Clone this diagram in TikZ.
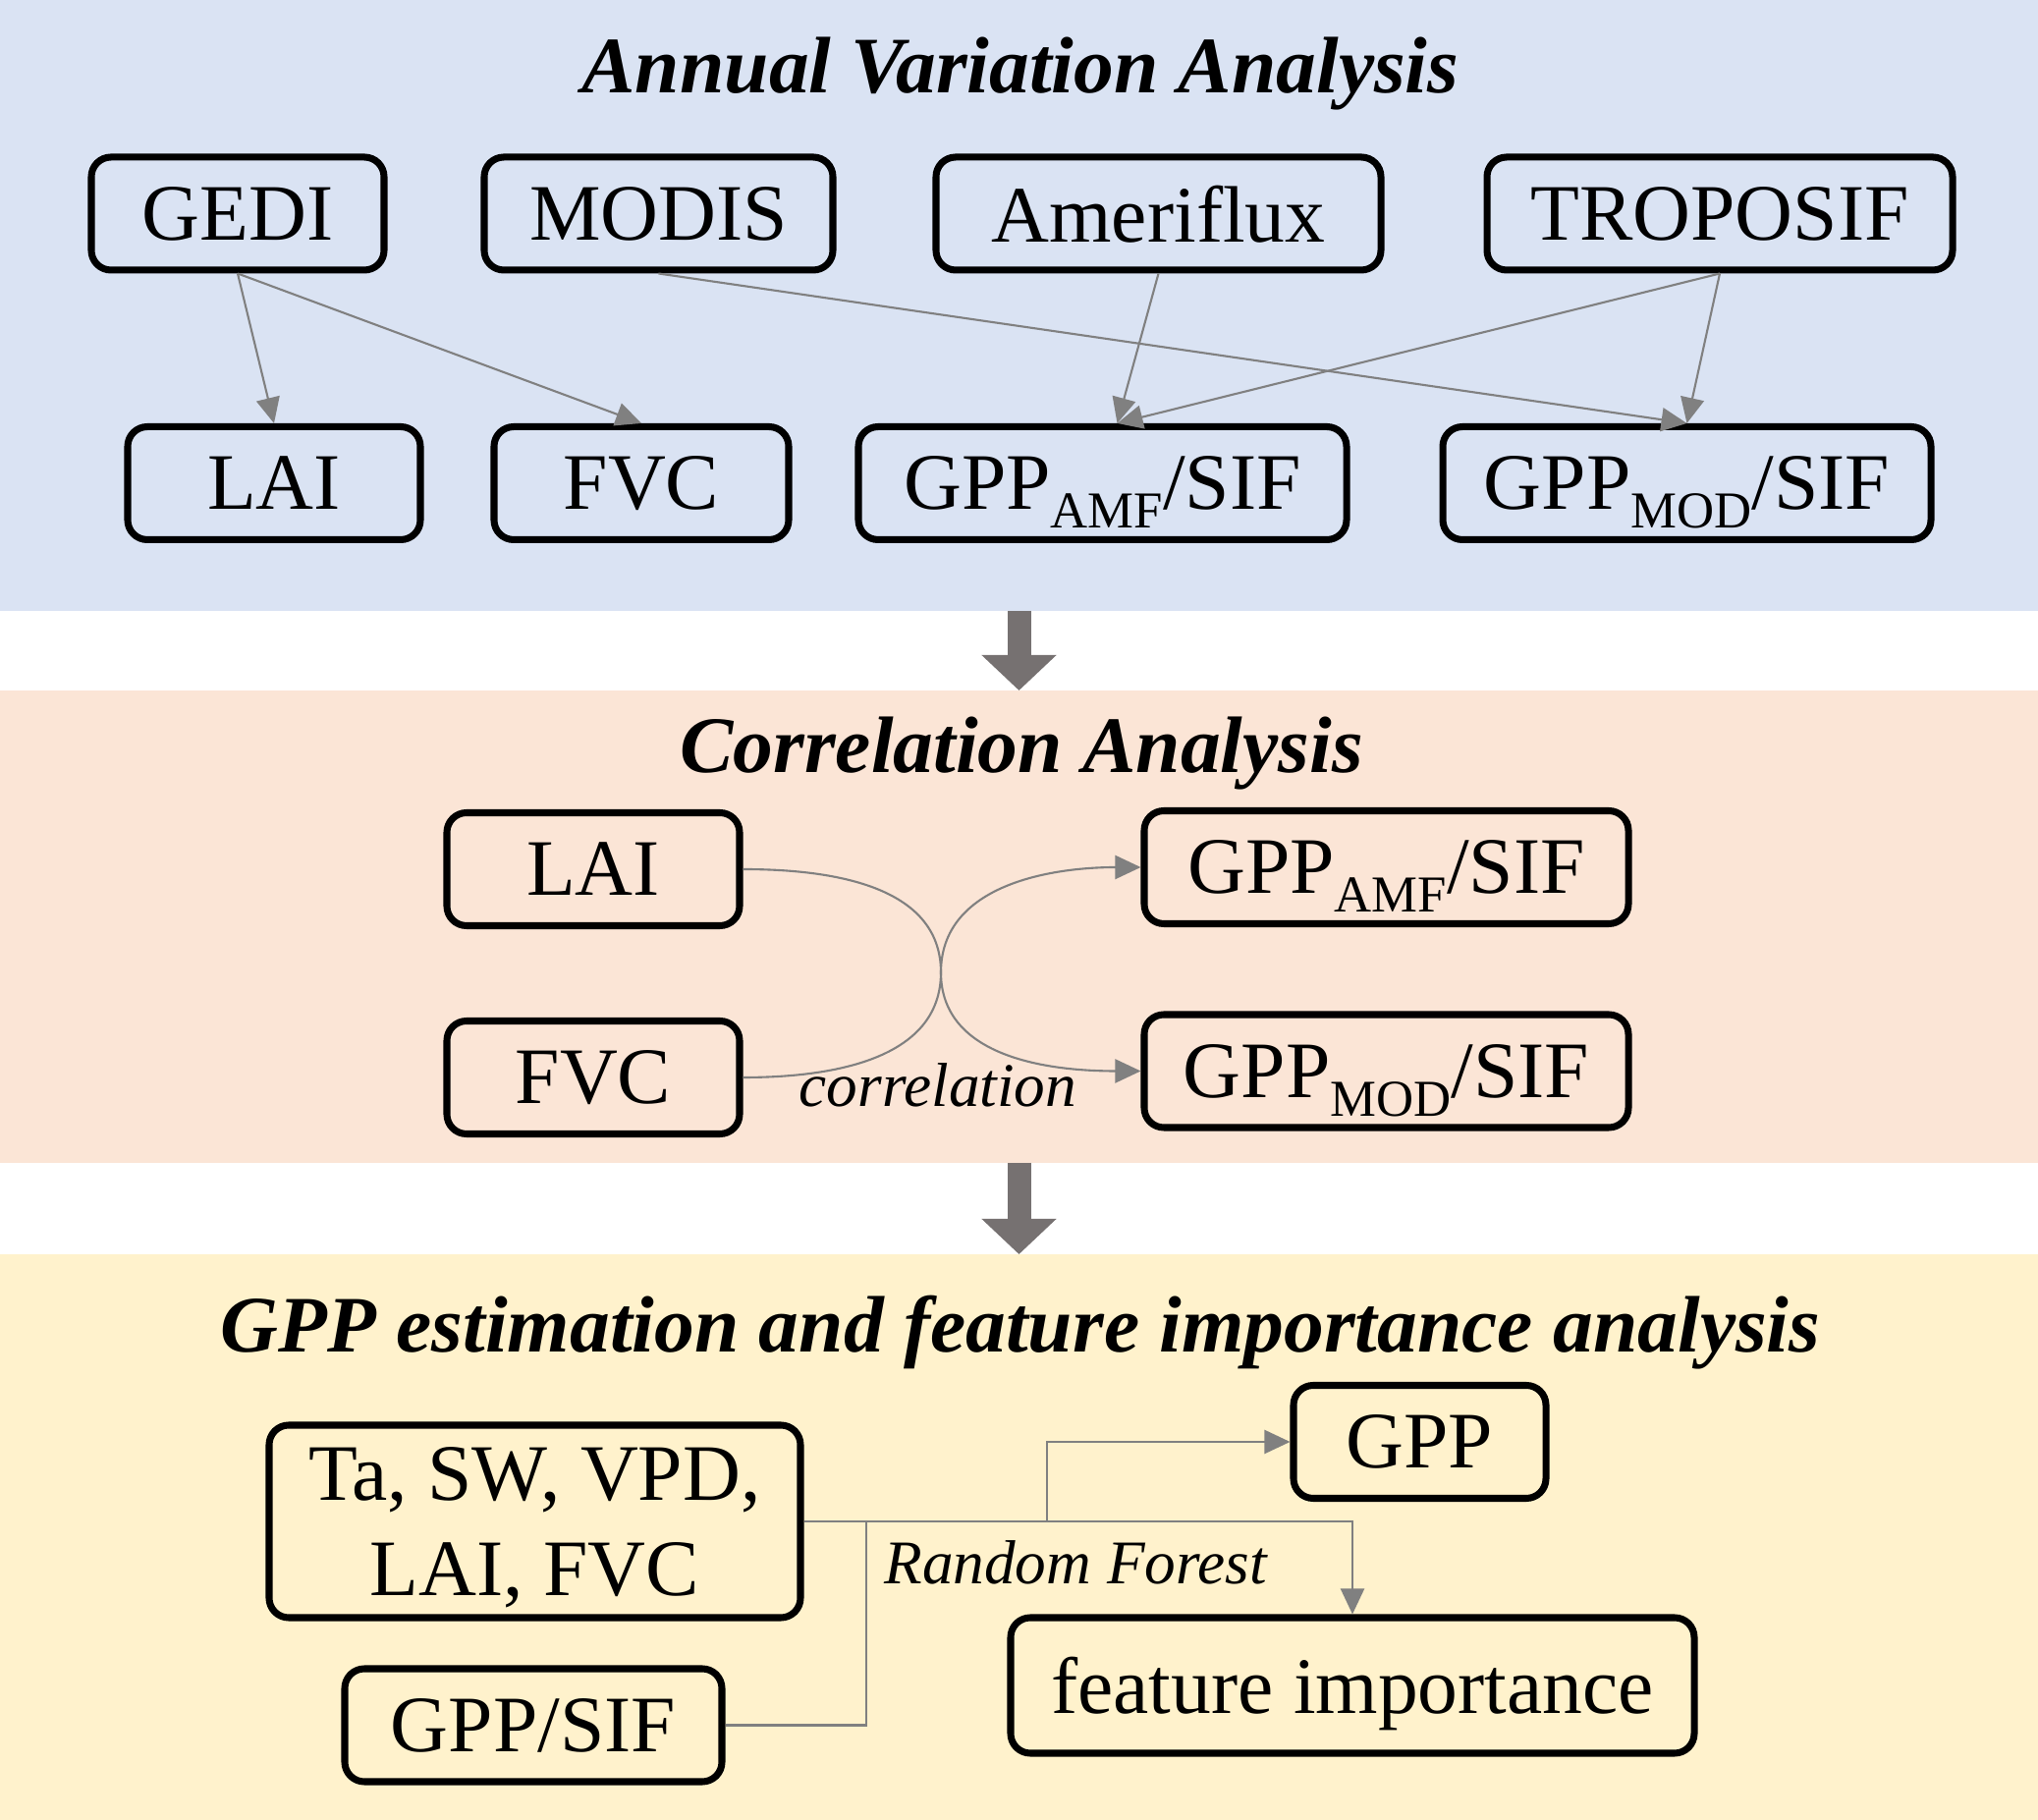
\documentclass[tikz,border=0pt]{standalone}
\usepackage{fontspec}
\setmainfont{Liberation Serif}
\usetikzlibrary{arrows.meta}
\definecolor{annualblue}{HTML}{DAE3F3}
\definecolor{corrorange}{HTML}{FBE5D6}
\definecolor{gppyellow}{HTML}{FFF2CC}
\definecolor{linkgray}{HTML}{808080}
\definecolor{flowgray}{HTML}{767171}
\newcommand\lowsub[1]{\raisebox{-0.19cm}{\fontsize{15}{18}\selectfont #1}}

\begin{document}
\begin{tikzpicture}[
  panel/.style={rectangle, minimum width=20.75cm, inner sep=0pt, outer sep=0pt},
  box/.style={draw, rounded corners=0.2cm, line width=2pt, inner sep=0pt, minimum height=1.15cm, text depth=0pt, font=\fontsize{23.2}{27.8}\selectfont},
  heading/.style={anchor=base, font=\fontsize{23.2}{27.8}\selectfont\bfseries\itshape},
  note/.style={anchor=base, font=\fontsize{18}{21.6}\selectfont\itshape},
  link/.style={draw=linkgray, line width=0.6pt},
  arrow/.style={link, -{Triangle[length=0.26cm,width=0.24cm]}},
  bigarrow/.style={draw=flowgray, line width=0.24cm, -{Triangle[length=0.36cm,width=0.74cm]}}
]
\useasboundingbox (0,0) rectangle (20.75,18.53);

% panels
\node[panel, fill=annualblue, minimum height=6.22cm] (annual) at (10.375,15.42) {};
\node[panel, fill=corrorange, minimum height=4.81cm] (corr) at (10.375,9.095) {};
\node[panel, fill=gppyellow, minimum height=5.76cm] (gppest) at (10.375,2.88) {};
\foreach \a/\b in {annual/corr, corr/gppest}
{
    \draw[bigarrow] (\a.south) -- (\b.north);
}

% annual variation analysis
\node[heading] (annualtitle) at (10.39,17.58) {Annual Variation Analysis};
\foreach \x/\w/\nm/\txt in {2.42/2.98/gedi/GEDI, 6.705/3.55/modis/MODIS, 11.795/4.53/ameriflux/Ameriflux, 17.51/4.74/troposif/TROPOSIF}
{
    \node[box, minimum width=\w cm] (\nm) at (\x,16.355) {\txt};
}
\foreach \x/\w/\nm/\txt in {2.79/2.98/lai/LAI, 6.53/3.0/fvc/FVC, 11.225/4.97/gamf/{GPP\lowsub{AMF}/SIF}, 17.175/4.97/gmod/{GPP\lowsub{MOD}/SIF}}
{
    \node[box, minimum width=\w cm] (\nm) at (\x,13.61) {\txt};
}
\foreach \a/\b in {gedi/lai, gedi/fvc, modis/gmod, troposif/gmod}
{
    \draw[arrow] (\a.south) -- (\b.north);
}
\foreach \a in {ameriflux, troposif}
{
    \draw[arrow] (\a.south) -- ([xshift=0.15cm]gamf.north);
}

% correlation analysis
\node[heading] (corrtitle) at (10.40,10.66) {Correlation Analysis};
\node[box, minimum width=2.98cm] (lai2) at (6.04,9.68) {LAI};
\node[box, minimum width=2.98cm] (fvc2) at (6.04,7.56) {FVC};
\node[box, minimum width=4.93cm] (gamf2) at (14.115,9.70) {GPP\lowsub{AMF}/SIF};
\node[box, minimum width=4.93cm] (gmod2) at (14.115,7.625) {GPP\lowsub{MOD}/SIF};
\coordinate (cross) at (9.58,8.63);
\draw[arrow] (lai2.east) to[out=0,in=90] (cross) to[out=-90,in=180] (gmod2.west);
\draw[arrow] (fvc2.east) to[out=0,in=-90] (cross) to[out=90,in=180] (gamf2.west);
\node[note] (corrnote) at (9.55,7.26) {correlation};

% gpp estimation and feature importance
\node[heading] (gpptitle) at (10.39,4.76) {GPP estimation and feature importance analysis};
\node[box, minimum width=5.41cm, minimum height=1.96cm, align=center] (inputs) at (5.445,3.04) {Ta, SW, VPD,\\LAI, FVC};
\node[box, minimum width=3.84cm] (gppsif) at (5.43,0.965) {GPP/SIF};
\node[box, minimum width=2.57cm] (gpp) at (14.455,3.85) {GPP};
\node[box, minimum width=6.96cm, minimum height=1.38cm] (fi) at (13.77,1.37) {feature importance};
\coordinate (join) at (8.82,3.04);
\coordinate (split) at (10.66,3.04);
\draw[link] (inputs.east) -- (join);
\draw[link] (gppsif.east) -| (join);
\draw[arrow] (join) -| (fi.north);
\draw[arrow] (split) |- (gpp.west);
\node[note, anchor=base west] (rfnote) at (8.88,2.40) {Random Forest};
\end{tikzpicture}
\end{document}
